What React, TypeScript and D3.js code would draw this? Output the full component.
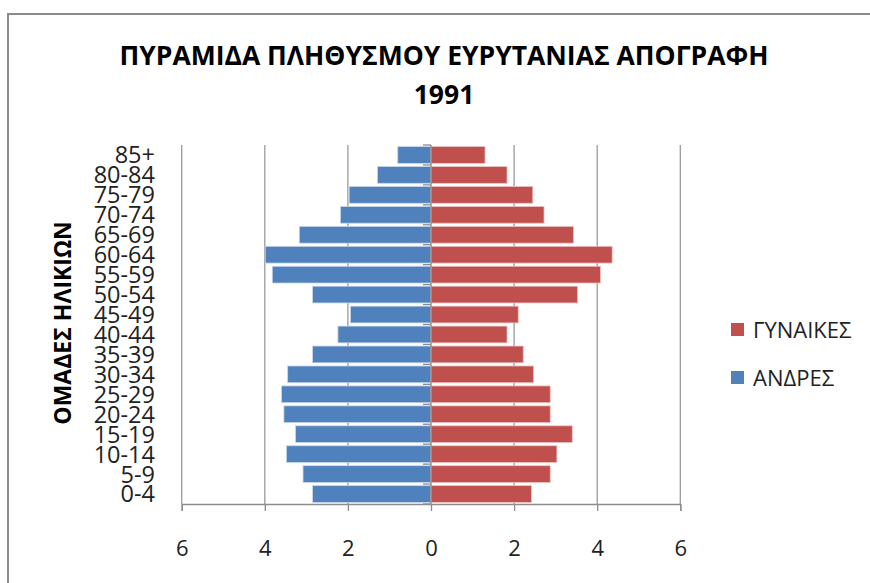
import * as d3 from 'd3'
import { useEffect, useRef } from 'react'

// age groups, top to bottom as drawn
const ageGroups = ['85+', '80-84', '75-79', '70-74', '65-69', '60-64', '55-59', '50-54', '45-49',
  '40-44', '35-39', '30-34', '25-29', '20-24', '15-19', '10-14', '5-9', '0-4']

// percent of population
const andres = [0.80, 1.29, 1.97, 2.18, 3.17, 3.99, 3.82, 2.85, 1.94,
  2.24, 2.85, 3.45, 3.60, 3.54, 3.26, 3.48, 3.08, 2.85]
const gynaikes = [1.30, 1.83, 2.45, 2.72, 3.43, 4.36, 4.08, 3.53, 2.10,
  1.83, 2.22, 2.47, 2.87, 2.87, 3.40, 3.03, 2.87, 2.42]

const xTicks = [-6, -4, -2, 0, 2, 4, 6]

const titleLines = ['ΠΥΡΑΜΙΔΑ ΠΛΗΘΥΣΜΟΥ ΕΥΡΥΤΑΝΙΑΣ ΑΠΟΓΡΑΦΗ', '1991']
const yTitle = 'ΟΜΑΔΕΣ ΗΛΙΚΙΩΝ'
const legendItems = [
  { label: 'ΓΥΝΑΙΚΕΣ', color: '#C0504D' },
  { label: 'ΑΝΔΡΕΣ', color: '#4F81BD' },
]

const WIDTH = 870
const HEIGHT = 583
const FONT = '"Open Sans", "Noto Sans", sans-serif'

export default function App() {
  const ref = useRef<SVGSVGElement>(null)

  useEffect(() => {
    drawPyramid(ref.current)
  }, [])

  return (
    <svg ref={ref} width={WIDTH} height={HEIGHT}
      style={{ position: 'absolute', left: 0, top: 0, background: '#fff' }} />
  )
}

const drawPyramid = (node: SVGSVGElement | null) => {
  if (!node) return
  const svg = d3.select(node)
  svg.selectAll('*').remove()

  const PLOT = { LEFT: 181.7, RIGHT: 680.3, TOP: 145, BOTTOM: 504 }

  // outer chart border
  svg.append('rect')
    .attr('x', 8).attr('y', 14)
    .attr('width', WIDTH).attr('height', HEIGHT)
    .attr('fill', '#fff')
    .attr('stroke', '#8c8c8c')
    .attr('stroke-width', 2)

  const x = d3.scaleLinear()
    .domain([-6, 6])
    .range([PLOT.LEFT, PLOT.RIGHT])

  const y = d3.scaleBand()
    .domain(ageGroups)
    .range([PLOT.TOP, PLOT.BOTTOM])
    .paddingInner(0.16)
    .paddingOuter(0.08)

  const yEdges = d3.scaleBand().domain(ageGroups).range([PLOT.TOP, PLOT.BOTTOM])

  // vertical gridlines
  svg.append('g')
    .selectAll('line')
    .data(xTicks.filter(t => t !== 0))
    .join('line')
    .attr('x1', d => x(d)).attr('x2', d => x(d))
    .attr('y1', PLOT.TOP).attr('y2', PLOT.BOTTOM)
    .attr('stroke', '#9a9a9a')
    .attr('stroke-width', 1.3)

  // bars
  const rows = ageGroups.map((g, i) => ({ g, m: andres[i], f: gynaikes[i] }))

  svg.append('g')
    .selectAll('rect')
    .data(rows)
    .join('rect')
    .attr('x', d => x(-d.m))
    .attr('y', d => y(d.g) as number)
    .attr('width', d => x(0) - x(-d.m))
    .attr('height', y.bandwidth())
    .attr('fill', legendItems[1].color)
    .attr('stroke', '#c9d6ea')
    .attr('stroke-width', 0.8)

  svg.append('g')
    .selectAll('rect')
    .data(rows)
    .join('rect')
    .attr('x', x(0))
    .attr('y', d => y(d.g) as number)
    .attr('width', d => x(d.f) - x(0))
    .attr('height', y.bandwidth())
    .attr('fill', legendItems[0].color)
    .attr('stroke', '#ebc4c3')
    .attr('stroke-width', 0.8)

  // bottom value axis
  const xAxis = svg.append('g')
    .attr('transform', `translate(0,${PLOT.BOTTOM})`)
    .call(d3.axisBottom(x).tickValues(xTicks).tickSize(7).tickPadding(29).tickFormat(d => String(Math.abs(+d))))
  xAxis.select('.domain').attr('stroke', '#8c8c8c').attr('stroke-width', 1.3)
  xAxis.selectAll('.tick line').attr('stroke', '#8c8c8c').attr('stroke-width', 1.3)
  xAxis.selectAll('.tick text')
    .attr('font-family', FONT)
    .attr('font-size', 22)
    .attr('fill', '#222')

  // category axis at zero
  svg.append('line')
    .attr('x1', x(0)).attr('x2', x(0))
    .attr('y1', PLOT.TOP).attr('y2', PLOT.BOTTOM)
    .attr('stroke', '#8c8c8c')
    .attr('stroke-width', 1.3)

  svg.append('g')
    .selectAll('line')
    .data(ageGroups.concat(['__end']))
    .join('line')
    .attr('x1', x(0) - 8).attr('x2', x(0))
    .attr('y1', (d, i) => i < ageGroups.length ? (yEdges(d) as number) : PLOT.BOTTOM)
    .attr('y2', (d, i) => i < ageGroups.length ? (yEdges(d) as number) : PLOT.BOTTOM)
    .attr('stroke', '#8c8c8c')
    .attr('stroke-width', 1.3)

  // category labels, on the far left
  svg.append('g')
    .selectAll('text')
    .data(ageGroups)
    .join('text')
    .attr('x', 155)
    .attr('y', d => (yEdges(d) as number) + yEdges.bandwidth() / 2)
    .attr('dy', '0.36em')
    .attr('text-anchor', 'end')
    .attr('font-family', FONT)
    .attr('font-size', 23.5)
    .attr('fill', '#222')
    .text(d => d)

  // title
  svg.append('g')
    .selectAll('text')
    .data(titleLines)
    .join('text')
    .attr('x', 444)
    .attr('y', (d, i) => 65 + i * 39)
    .attr('text-anchor', 'middle')
    .attr('font-family', FONT)
    .attr('font-weight', 'bold')
    .attr('font-size', 26.5)
    .attr('fill', '#000')
    .text(d => d)

  // y axis title
  svg.append('text')
    .attr('transform', `translate(71,323) rotate(-90)`)
    .attr('text-anchor', 'middle')
    .attr('font-family', FONT)
    .attr('font-weight', 'bold')
    .attr('font-size', 23)
    .attr('fill', '#000')
    .text(yTitle)

  // legend
  const legend = svg.append('g')
    .selectAll('g')
    .data(legendItems)
    .join('g')
    .attr('transform', (d, i) => `translate(731,${330 + i * 48})`)
  legend.append('rect')
    .attr('x', 0).attr('y', -7)
    .attr('width', 13).attr('height', 13)
    .attr('fill', d => d.color)
  legend.append('text')
    .attr('x', 22)
    .attr('dy', '0.36em')
    .attr('font-family', FONT)
    .attr('font-size', 22)
    .attr('fill', '#222')
    .text(d => d.label)
}
